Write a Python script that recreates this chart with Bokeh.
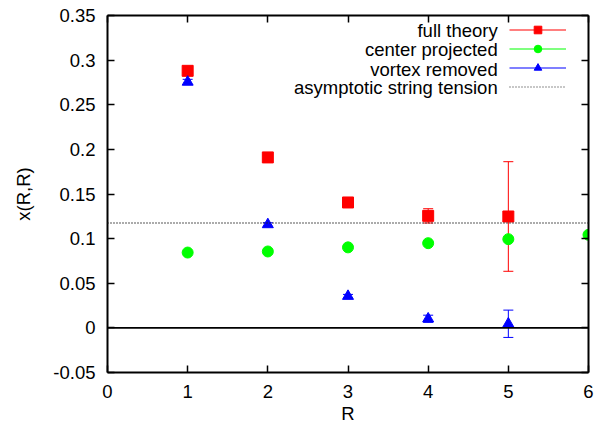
from bokeh.plotting import figure
from bokeh.models import (ColumnDataSource, Whisker, TeeHead, Span, Label, Legend,
                          LegendItem, LinearAxis, FixedTicker, Range1d,
                          CustomLabelingPolicy)
from bokeh.embed import file_html
from bokeh.resources import INLINE

# ---- data ----
R_full = [1, 2, 3, 4, 5]
full = [0.288, 0.191, 0.1405, 0.1255, 0.1248]
full_err = [0.002, 0.002, 0.002, 0.008, 0.0614]

R_center = [1, 2, 3, 4, 5, 6]
center = [0.0844, 0.0856, 0.0902, 0.0949, 0.0994, 0.1043]
center_err = [0.001, 0.001, 0.001, 0.001, 0.001, 0.001]

R_vortex = [1, 2, 3, 4, 5]
vortex = [0.2755, 0.1158, 0.0355, 0.0102, 0.0046]
vortex_err = [0.003, 0.002, 0.002, 0.004, 0.0153]

asym_tension = 0.1175

series_labels = ["full theory", "center projected", "vortex removed",
                 "asymptotic string tension"]
x_ticks = [0, 1, 2, 3, 4, 5, 6]
y_ticks = [-0.05, 0, 0.05, 0.1, 0.15, 0.2, 0.25, 0.3, 0.35]
y_tick_labels = ["-0.05", "0", "0.05", "0.1", "0.15", "0.2", "0.25", "0.3", "0.35"]

FONT = "Liberation Sans"
FS = "18.5px"

p = figure(width=594, height=426, output_backend="svg", toolbar_location=None,
           x_range=Range1d(0, 6), y_range=Range1d(-0.05, 0.35),
           min_border_left=107, min_border_right=5, min_border_top=15,
           min_border_bottom=54)
p.background_fill_color = "white"
p.border_fill_color = "white"
p.grid.visible = False
p.outline_line_color = None

xb = p.xaxis[0]
xb.ticker = FixedTicker(ticks=x_ticks)
yl = p.yaxis[0]
yl.ticker = FixedTicker(ticks=y_ticks)
yl.major_label_overrides = {t: s for t, s in zip(y_ticks, y_tick_labels)}

xt = LinearAxis(ticker=FixedTicker(ticks=x_ticks))
yr = LinearAxis(ticker=FixedTicker(ticks=y_ticks))
p.add_layout(xt, "above")
p.add_layout(yr, "right")

for ax in (xb, yl, xt, yr):
    ax.axis_line_color = "black"
    ax.axis_line_width = 2
    ax.major_tick_line_color = "black"
    ax.major_tick_line_width = 1.5
    ax.major_tick_in = 7
    ax.major_tick_out = 0
    ax.minor_tick_line_color = None
    ax.major_label_text_font = FONT
    ax.major_label_text_color = "black"

for ax in (xb, yl):
    ax.major_label_text_font_size = FS
    ax.major_label_standoff = 12
    ax.axis_label_text_font = FONT
    ax.axis_label_text_font_size = FS
    ax.axis_label_text_font_style = "normal"
    ax.axis_label_text_color = "black"

hide_all = CustomLabelingPolicy(
    code="const a = [...indices]; for (const i of a) { indices.unset(i) } return indices")
for ax in (xt, yr):
    ax.major_label_text_font_size = "1px"
    ax.major_label_standoff = 0
    ax.major_label_policy = hide_all

yl.axis_label = "x(R,R)"
yl.axis_label_standoff = 16
xb.axis_label = "R"
xb.axis_label_standoff = 2

# reference lines
p.add_layout(Span(location=0, dimension="width", line_color="black", line_width=1.6))
p.add_layout(Span(location=asym_tension, dimension="width", line_color="#222222",
                  line_width=1.4, line_dash="1 2"))


def with_err(xs, ys, es):
    return ColumnDataSource(dict(x=xs, y=ys,
                                 lo=[a - b for a, b in zip(ys, es)],
                                 hi=[a + b for a, b in zip(ys, es)]))


nan = float("nan")
items = []
for src, col, marker, size, lab in [
        (with_err(R_full, full, full_err), "#ff0000", "square", 11, series_labels[0]),
        (with_err(R_center, center, center_err), "#00ff00", "circle", 11, series_labels[1]),
        (with_err(R_vortex, vortex, vortex_err), "#0000ff", "triangle", 11, series_labels[2])]:
    w = Whisker(source=src, base="x", lower="lo", upper="hi", line_color=col,
                line_width=1,
                upper_head=TeeHead(size=10, line_color=col, line_width=1),
                lower_head=TeeHead(size=10, line_color=col, line_width=1))
    p.add_layout(w)
    r = p.scatter("x", "y", source=src, marker=marker, size=size,
                  fill_color=col, line_color=col)
    lr = p.line(x=[nan], y=[nan], line_color=col, line_width=1.2)
    items.append(LegendItem(label=" ", renderers=[lr, r]))

lr_asym = p.line(x=[nan], y=[nan], line_color="#222222", line_width=1.2, line_dash="1 2")
items.append(LegendItem(label=" ", renderers=[lr_asym]))

legend = Legend(items=items, location="top_right", orientation="vertical",
                glyph_width=57, glyph_height=19, label_height=19, spacing=0,
                padding=0, margin=5, label_standoff=0, label_width=17,
                label_text_font_size="1px", border_line_color=None,
                background_fill_alpha=0)
p.add_layout(legend)

# legend texts, right-aligned to the left of the samples
legend_text_y = [0.3332, 0.3116, 0.2898, 0.2690]
for txt, yy in zip(series_labels, legend_text_y):
    p.add_layout(Label(x=4.867, y=yy, text=txt, text_align="right",
                       text_baseline="middle", text_font=FONT,
                       text_font_size=FS, text_color="black"))

open("out.html", "w").write(file_html(p, INLINE))
